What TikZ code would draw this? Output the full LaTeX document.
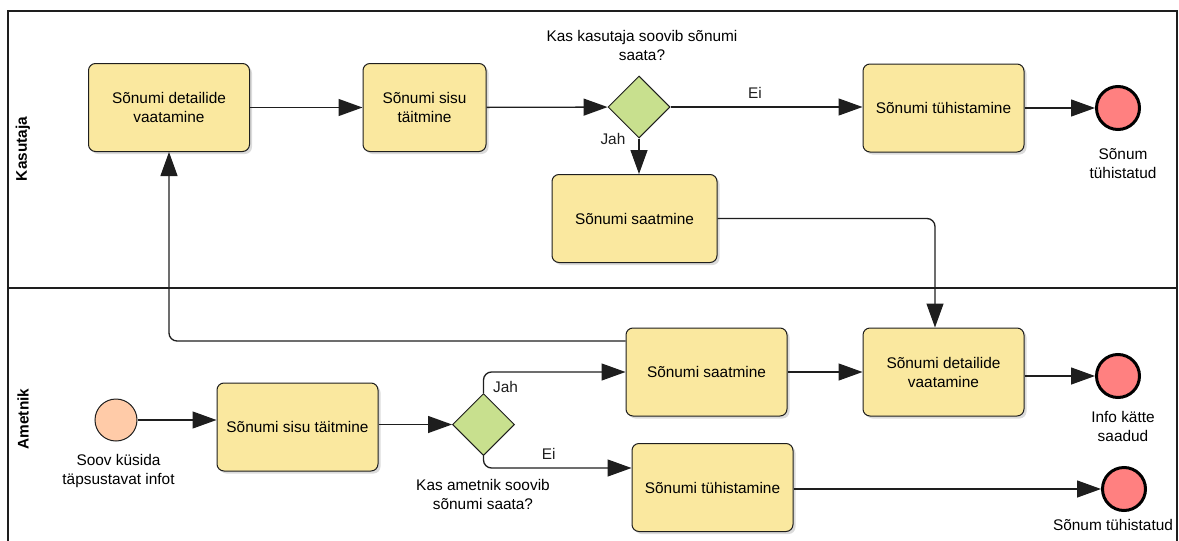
\documentclass[tikz,border=0pt]{standalone}
\usepackage{fontspec}
\setmainfont{Liberation Sans}
\usetikzlibrary{arrows.meta, positioning, shapes.geometric, shadows}
\definecolor{bpTask}{HTML}{FAE89F}
\definecolor{bpGate}{HTML}{C8E08E}
\definecolor{bpStart}{HTML}{FFCBA8}
\definecolor{bpEnd}{HTML}{FF8080}
\definecolor{bpInk}{HTML}{1E1E1E}
\newcommand\bpsize{\fontsize{15.4}{19}\selectfont}
\tikzset{
  lane/.style     = {draw=bpInk, line width=1.6pt},
  lanelbl/.style  = {font=\bpsize\bfseries, rotate=90},
  task/.style     = {rectangle, rounded corners=7pt, draw=bpInk, fill=bpTask,
                     line width=1pt, minimum width=161pt, minimum height=88pt,
                     align=center, inner sep=0pt,
                     drop shadow={shadow xshift=2.5pt, shadow yshift=-2.5pt,
                                  fill=black!40, opacity=0.35}},
  gate/.style     = {diamond, draw=bpInk, fill=bpGate, line width=1pt,
                     minimum width=62pt, minimum height=62pt, inner sep=0pt},
  startev/.style  = {circle, draw=bpInk, fill=bpStart, line width=1pt,
                     minimum size=42pt, inner sep=0pt},
  endev/.style    = {circle, draw=black, fill=bpEnd, line width=3pt,
                     minimum size=43pt, inner sep=0pt},
  flow/.style     = {-{Triangle[length=24pt, width=17pt]}, line width=1.3pt,
                     bpInk, rounded corners=8pt},
  lbl/.style      = {align=center, inner sep=0pt},
}

\begin{document}
\begin{tikzpicture}[x=1pt, y=-1pt, font=\bpsize]
  \useasboundingbox (0,0) rectangle (1179,541);
  % swimlanes
  \draw[lane] (8,11) rectangle (1177,288);
  \draw[lane] (8,288) rectangle (1177,560);
  \node[lanelbl] (kasutaja) at (23,149) {Kasutaja};
  \node[lanelbl] (ametnik) at (23,419) {Ametnik};

  % Kasutaja
  \node[task] (vaataK) at (169,107.5) {Sõnumi detailide\\vaatamine};
  \node[task, minimum width=123pt] (taidaK) at (424.5,107.5) {Sõnumi sisu\\täitmine};
  \node[gate] (soovK) at (639,107) {};
  \node[task, minimum width=165pt] (saadaK) at (634.5,218.5) {Sõnumi saatmine};
  \node[task] (tyhistaK) at (943.5,108) {Sõnumi tühistamine};
  \node[endev] (loppK) at (1118,108) {};
  \node[lbl] (soovKlbl) at (642,45) {Kas kasutaja soovib sõnumi\\saata?};
  \node[lbl] (loppKlbl) at (1123,164) {Sõnum\\tühistatud};

  % Ametnik
  \node[startev] (algus) at (116,420) {};
  \node[task] (taidaA) at (297.5,427) {Sõnumi sisu täitmine};
  \node[gate] (soovA) at (483.5,424.5) {};
  \node[task] (saadaA) at (706.5,372) {Sõnumi saatmine};
  \node[task] (vaataA) at (943.5,372) {Sõnumi detailide\\vaatamine};
  \node[task] (tyhistaA) at (712.5,487.5) {Sõnumi tühistamine};
  \node[endev] (loppA) at (1118,376) {};
  \node[endev] (loppT) at (1124,489) {};
  \node[lbl] (alguslbl) at (118.5,471) {Soov küsida\\täpsustavat infot};
  \node[lbl] (soovAlbl) at (483,494) {Kas ametnik soovib\\sõnumi saata?};
  \node[lbl] (loppAlbl) at (1123,426) {Info kätte\\saadud};
  \node[lbl] (loppTlbl) at (1113,525) {Sõnum tühistatud};

  % flows
  \draw[flow] (vaataK) -- (taidaK);
  \draw[flow] (taidaK) -- (soovK);
  \draw[flow] (soovK.east) -- node[lbl, pos=0.44, above=8pt] {Ei} (soovK.east -| tyhistaK.west);
  \draw[flow] (soovK.south) -- node[lbl, pos=0, left=13pt] {Jah} (saadaK.north -| soovK.south);
  \draw[flow] (tyhistaK) -- (loppK);
  \draw[flow] (saadaK.east) -| ([xshift=-8.5pt]vaataA.north);
  \draw[flow] (algus) -- (algus -| taidaA.west);
  \draw[flow] (soovA.west -| taidaA.east) -- (soovA.west);
  \draw[flow] (soovA.north) |- node[lbl, pos=0.14, right=9pt] {Jah} (saadaA.west);
  \draw[flow] (soovA.south) |- node[lbl, pos=0.72, above=8pt] {Ei} ([yshift=19.5pt]tyhistaA.west);
  \draw[flow] (saadaA) -- (vaataA);
  \draw[flow] (vaataA.east |- loppA) -- (loppA);
  \draw[flow] (tyhistaA.east |- loppT) -- (loppT);
  \draw[flow] ([yshift=31pt]saadaA.west) -| (vaataK.south);
\end{tikzpicture}
\end{document}
